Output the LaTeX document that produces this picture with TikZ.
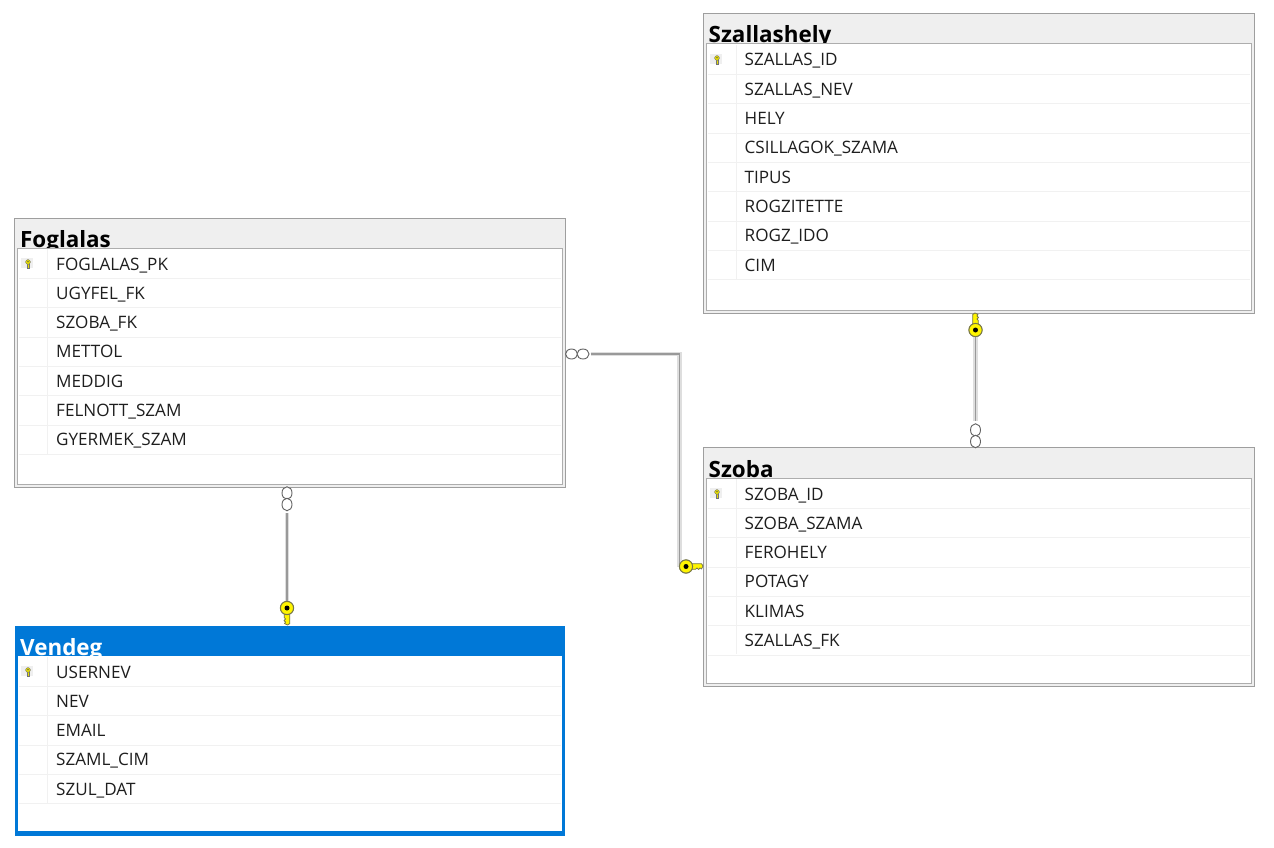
\documentclass[tikz,border=0pt]{standalone}
\usepackage{fontspec}
\setmainfont{Open Sans}
\usetikzlibrary{shapes.geometric}
\definecolor{hdr}{HTML}{EFEFEF}
\definecolor{edge}{HTML}{9E9E9E}
\definecolor{rowline}{HTML}{F1F1F1}
\definecolor{selblue}{HTML}{0078D7}
\definecolor{keygold}{HTML}{FFF500}
\definecolor{keyedge}{HTML}{77774A}
\definecolor{txt}{HTML}{1E1E1E}
\tikzset{
  x=1pt,y=-1pt,
  outerbox/.style={draw=edge,line width=1pt,fill=hdr,anchor=north west,inner sep=0,outer sep=0},
  innerbox/.style={draw=edge!85,line width=1pt,fill=white,anchor=north west,inner sep=0,outer sep=0},
  titletext/.style={anchor=base west,inner sep=0,font=\fontsize{22.4}{23}\selectfont\bfseries,text=black},
  rowtext/.style={anchor=base west,inner sep=0,font=\fontsize{17.1}{18}\selectfont,text=txt},
  relbase/.style={draw=black!13,line width=4.6pt},
  relcore/.style={draw=black!40,line width=1.6pt},
  crow/.style={ellipse,draw=black!62,line width=.9pt,fill=white,inner sep=0,outer sep=0,minimum width=#1},
  keyhead/.style={circle,draw=keyedge,line width=1pt,fill=keygold,inner sep=0,outer sep=0,minimum size=13pt},
  keyshaft/.pic={
    \draw[draw=keyedge,line width=.8pt,fill=keygold,line join=round]
      (3,-2.8) -- (15.5,-2.8) -- (17,-.6) -- (15.6,2.4) -- (14,1.5) -- (12.6,3) -- (11,1.5) -- (9.5,2.8) -- (3,2.8) -- cycle;
  },
  smallkey/.pic={
    \fill[hdr] (-7,-6) rectangle (5,4);
    \draw[draw=black!55,line width=.4pt,fill=keygold!90!black] (-1,-.5) -- (-1,3.8) -- (1,3.8) -- (1,-.5) -- cycle;
    \draw[draw=black!55,line width=.4pt,fill=keygold!90!black] (0,-2) circle (2.4);
    \fill[black!70] (0,-2.4) circle (.7);
  },
}
\begin{document}
\begin{tikzpicture}
\useasboundingbox (0,0) rectangle (1274,848);
\fill[white] (0,0) rectangle (1274,848);

% Foglalas
\node[outerbox,minimum width=550.5pt,minimum height=269pt] (foglalas) at (14.5,218) {};
\node[titletext] (foglalas-title) at (20,247) {Foglalas};
\node[innerbox,minimum width=544.5pt,minimum height=236pt] (foglalas-body) at (17.5,248) {};
\foreach \rowname [count=\i from 0] in {FOGLALAS\_PK,UGYFEL\_FK,SZOBA\_FK,METTOL,MEDDIG,FELNOTT\_SZAM,GYERMEK\_SZAM} {
  \node[rowtext] (foglalas-r\i) at (56,270+29.3*\i) {\rowname};
  \draw[rowline,line width=.8pt] (19,278.4+29.3*\i) -- (561,278.4+29.3*\i);
}
\draw[rowline,line width=.8pt] (47,249) -- (47,454);
\pic at (28,264) {smallkey};

% Szallashely
\node[outerbox,minimum width=550.5pt,minimum height=299pt] (szallashely) at (703.5,14) {};
\node[titletext] (szallashely-title) at (708.5,43) {Szallashely};
\node[innerbox,minimum width=544.5pt,minimum height=266pt] (szallashely-body) at (706.5,44) {};
\foreach \rowname [count=\i from 0] in {SZALLAS\_ID,SZALLAS\_NEV,HELY,CSILLAGOK\_SZAMA,TIPUS,ROGZITETTE,ROGZ\_IDO,CIM} {
  \node[rowtext] (szallashely-r\i) at (744.5,66+29.3*\i) {\rowname};
  \draw[rowline,line width=.8pt] (708,74.4+29.3*\i) -- (1250,74.4+29.3*\i);
}
\draw[rowline,line width=.8pt] (736,45) -- (736,279);
\pic at (717,60) {smallkey};

% Szoba
\node[outerbox,minimum width=550.5pt,minimum height=239pt] (szoba) at (703.5,447) {};
\node[titletext] (szoba-title) at (708.5,477) {Szoba};
\node[innerbox,minimum width=544.5pt,minimum height=205pt] (szoba-body) at (706.5,478) {};
\foreach \rowname [count=\i from 0] in {SZOBA\_ID,SZOBA\_SZAMA,FEROHELY,POTAGY,KLIMAS,SZALLAS\_FK} {
  \node[rowtext] (szoba-r\i) at (744.5,500+29.3*\i) {\rowname};
  \draw[rowline,line width=.8pt] (708,508.4+29.3*\i) -- (1250,508.4+29.3*\i);
}
\draw[rowline,line width=.8pt] (736,479) -- (736,654);
\pic at (717,494) {smallkey};

% Vendeg
\node[draw=selblue,line width=3.4pt,fill=selblue,anchor=north west,inner sep=0,outer sep=0,minimum width=547.5pt,minimum height=206.5pt] (vendeg) at (16.2,627.7) {};
\node[titletext,text=white] (vendeg-title) at (20,655) {Vendeg};
\node[anchor=north west,fill=white,inner sep=0,outer sep=0,minimum width=544pt,minimum height=175pt] (vendeg-body) at (18,656) {};
\foreach \rowname [count=\i from 0] in {USERNEV,NEV,EMAIL,SZAML\_CIM,SZUL\_DAT} {
  \node[rowtext] (vendeg-r\i) at (56,678+29.3*\i) {\rowname};
  \draw[rowline,line width=.8pt] (19,686.4+29.3*\i) -- (561,686.4+29.3*\i);
}
\draw[rowline,line width=.8pt] (47,657) -- (47,803);
\pic at (28,672) {smallkey};

% Relationship end markers
\node[keyhead] (k1) at (686,566.5) {};
\node[keyhead] (k2) at (287,608) {};
\node[keyhead] (k3) at (975.5,330) {};

\node[crow=12pt,minimum height=10pt] (c1a) at (571.5,354) {};
\node[crow=12pt,minimum height=10pt] (c1b) at (583,354) {};
\node[crow=10pt,minimum height=12.5pt] (c2a) at (287,493) {};
\node[crow=10pt,minimum height=12.5pt] (c2b) at (287,504.5) {};
\node[crow=10pt,minimum height=12.5pt] (c3a) at (975.5,430) {};
\node[crow=10pt,minimum height=12.5pt] (c3b) at (975.5,441.5) {};

% Connectors
\foreach \sty in {relbase,relcore} {
  \draw[\sty,shorten <=1.5pt] (c1b.east) -| (k1.west);
  \draw[\sty,shorten <=2.5pt] (c2b.south) -- (k2.north);
  \draw[\sty,shorten >=2.5pt] (k3.south) -- (c3a.north);
}

% Keys drawn over connector ends
\pic at (k1.center) {keyshaft};
\pic[rotate=-90] at (k2.center) {keyshaft};
\pic[rotate=90] at (k3.center) {keyshaft};
\foreach \k in {k1,k2,k3} {
  \fill[keygold,draw=keyedge,line width=1pt] (\k) circle (6.6);
  \fill[black] (\k) circle (2.5);
}
\end{tikzpicture}
\end{document}
